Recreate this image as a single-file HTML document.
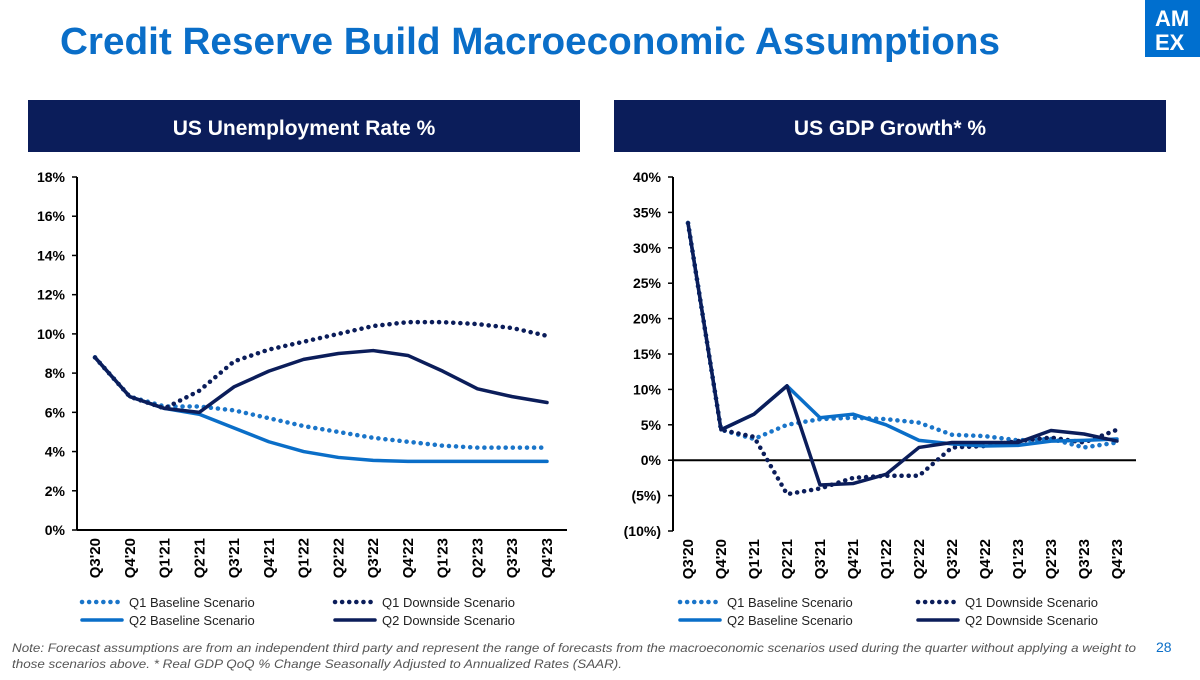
<!DOCTYPE html>
<html><head><meta charset="utf-8"><style>
body{margin:0;width:1200px;height:675px;overflow:hidden;background:#fff;font-family:"Liberation Sans",Arial,sans-serif;}
svg text{font-family:"Liberation Sans",Arial,sans-serif;}
</style></head><body>
<svg id="s" width="1200" height="675" xmlns="http://www.w3.org/2000/svg">
<text x="60" y="54" font-size="38" font-weight="bold" fill="#0a6ec8" textLength="940" lengthAdjust="spacingAndGlyphs">Credit Reserve Build Macroeconomic Assumptions</text>
<g><rect x="1145" y="0" width="55" height="57" fill="#006fcf"/><text x="1155" y="26" font-size="22" font-weight="bold" fill="#fff">AM</text><text x="1155" y="50" font-size="22" font-weight="bold" fill="#fff">EX</text></g>
<g><rect x="28" y="100" width="552" height="52" fill="#0b1d5a"/><text x="304" y="135" font-size="21" font-weight="bold" fill="#fff" text-anchor="middle">US Unemployment Rate %</text></g>
<g><rect x="614" y="100" width="552" height="52" fill="#0b1d5a"/><text x="890" y="135" font-size="21" font-weight="bold" fill="#fff" text-anchor="middle">US GDP Growth* %</text></g>
<g id="c1"></g>
<g id="c2"></g>
<text x="12" y="652" font-size="12" font-style="italic" fill="#555" textLength="1124" lengthAdjust="spacingAndGlyphs">Note: Forecast assumptions are from an independent third party and represent the range of forecasts from the macroeconomic scenarios used during the quarter without applying a weight to</text>
<text x="12" y="668" font-size="12" font-style="italic" fill="#555" textLength="610" lengthAdjust="spacingAndGlyphs">those scenarios above. * Real GDP QoQ % Change Seasonally Adjusted to Annualized Rates (SAAR).</text>
<text x="1156" y="652" font-size="14" fill="#0a6ec8">28</text>
</svg>
<script>
const categories=["Q3'20","Q4'20","Q1'21","Q2'21","Q3'21","Q4'21","Q1'22","Q2'22","Q3'22","Q4'22","Q1'23","Q2'23","Q3'23","Q4'23"];
const seriesNames=["Q1 Baseline Scenario","Q1 Downside Scenario","Q2 Baseline Scenario","Q2 Downside Scenario"];
const unempQ1Base=[8.8,6.8,6.3,6.3,6.1,5.7,5.3,5.0,4.7,4.5,4.3,4.2,4.2,4.2];
const unempQ1Down=[8.8,6.8,6.2,7.1,8.6,9.2,9.6,10.0,10.4,10.6,10.6,10.5,10.3,9.9];
const unempQ2Base=[8.8,6.8,6.2,5.9,5.2,4.5,4.0,3.7,3.55,3.5,3.5,3.5,3.5,3.5];
const unempQ2Down=[8.8,6.8,6.2,6.0,7.3,8.1,8.7,9.0,9.15,8.9,8.1,7.2,6.8,6.5];
const unempTicks=[0,2,4,6,8,10,12,14,16,18];
const gdpQ1Base=[33.5,4.3,3.0,5.0,5.8,6.0,5.8,5.3,3.6,3.4,2.8,3.0,1.8,2.5];
const gdpQ1Down=[33.5,4.3,3.3,-4.8,-4.0,-2.5,-2.2,-2.2,1.8,2.0,2.7,3.2,2.5,4.3];
const gdpQ2Base=[33.5,4.3,6.5,10.5,6.0,6.5,5.0,2.8,2.3,2.0,2.1,2.7,2.8,3.0];
const gdpQ2Down=[33.5,4.3,6.5,10.5,-3.5,-3.3,-2.0,1.8,2.5,2.5,2.5,4.2,3.7,2.7];
const gdpTicks=[-10,-5,0,5,10,15,20,25,30,35,40];

const NS="http://www.w3.org/2000/svg";
function mk(p,t,a){const e=document.createElementNS(NS,t);for(const k in a)e.setAttribute(k,a[k]);p.appendChild(e);return e;}
const styles=[{c:"#1a75c9",d:"0.1 7",w:4.5},{c:"#0b1d5a",d:"0.1 7",w:4.5},{c:"#0a6ec8",d:"",w:3.5},{c:"#0b1d5a",d:"",w:3.5}];
function chart(g,series,ticks,fmt,ax,yTop,yBot,x0,x1,legX,legX2,zeroLine,rightEnd){
  const mn=ticks[0],mx=ticks[ticks.length-1];
  const y=v=>yBot-(v-mn)/(mx-mn)*(yBot-yTop);
  const step=(x1-x0)/(categories.length-1);
  const x=i=>x0+i*step;
  const axis=mk(g,"line",{x1:ax,y1:yTop,x2:ax,y2:yBot,stroke:"#000","stroke-width":2});
  
  
  const base=mk(g,"line",{x1:ax,y1:zeroLine?y(0):yBot,x2:rightEnd,y2:zeroLine?y(0):yBot,stroke:"#000","stroke-width":2});
  
  
  ticks.forEach(t=>{
    mk(g,"line",{x1:ax-5,y1:y(t),x2:ax,y2:y(t),stroke:"#000","stroke-width":1.5});
    const tx=mk(g,"text",{x:ax-12,y:y(t)+5,"font-size":14,"font-weight":"bold","text-anchor":"end"});
    tx.textContent=fmt(t);
    
    
  });
  categories.forEach((c,i)=>{
    const tx=mk(g,"text",{x:0,y:0,"font-size":15,"font-weight":"bold","text-anchor":"end",transform:`translate(${x(i)+5},${yBot+8}) rotate(-90)`});
    tx.textContent=c;
    
    
  });
  series.forEach((s,k)=>{
    const st=styles[k];
    const p=mk(g,"polyline",{points:s.map((v,i)=>x(i)+","+y(v)).join(" "),fill:"none",stroke:st.c,"stroke-width":st.w,"stroke-dasharray":st.d,"stroke-linecap":"round","stroke-linejoin":"round"});
    
    
    const lx=k%2?legX2:legX, ly=k<2?602:620;
    const ll=mk(g,"line",{x1:lx,y1:ly,x2:lx+40,y2:ly,stroke:st.c,"stroke-width":st.w,"stroke-dasharray":st.d,"stroke-linecap":"round"});
    
    
    const lt=mk(g,"text",{x:lx+47,y:ly+5,"font-size":13,fill:"#222"});
    lt.textContent=seriesNames[k];
    
    
  });
}
chart(document.getElementById("c1"),[unempQ1Base,unempQ1Down,unempQ2Base,unempQ2Down],unempTicks,t=>t+"%",77,177,530,95,547,82,335,false,567);
chart(document.getElementById("c2"),[gdpQ1Base,gdpQ1Down,gdpQ2Base,gdpQ2Down],gdpTicks,t=>t<0?"("+(-t)+"%)":t+"%",673,177,531,688,1117,680,918,true,1136);
</script>
</body></html>
